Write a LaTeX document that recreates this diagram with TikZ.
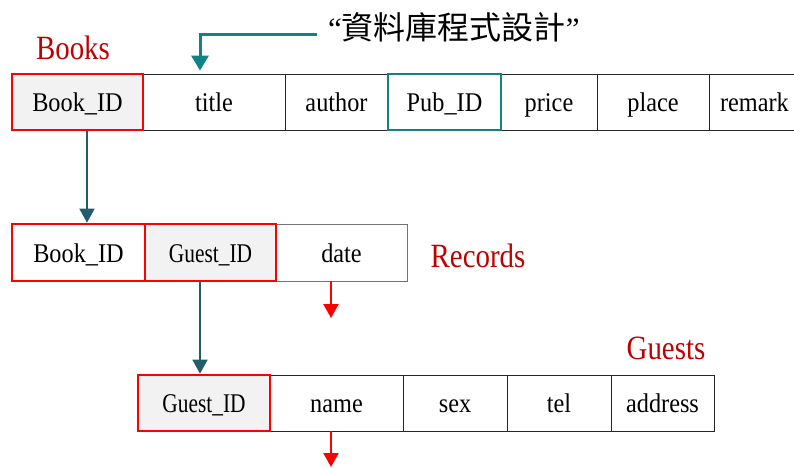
\documentclass[tikz,border=0pt]{standalone}
\usepackage{fontspec}
\setmainfont{Liberation Serif}
\newfontfamily\cellfont[FakeStretch=0.9]{Liberation Serif}
\newfontfamily\labfont[FakeStretch=0.85]{Liberation Serif}
\newfontfamily\cjk{Noto Sans CJK TC}
\usetikzlibrary{arrows.meta}
\definecolor{keyred}{HTML}{FF0000}
\definecolor{labred}{HTML}{C00000}
\definecolor{tealc}{HTML}{0E8484}
\definecolor{darkc}{HTML}{235C6B}
\definecolor{fillg}{HTML}{F2F2F2}
\tikzset{
  cell/.style={draw=black!85, line width=0.9pt, inner sep=0pt, minimum height=56pt, text height=19pt, text depth=0pt, font=\cellfont\fontsize{27}{29}\selectfont},
  keycell/.style={cell, draw=keyred, line width=2.6pt},
  tlabel/.style={text=labred, font=\labfont\fontsize{34}{36}\selectfont, inner sep=0pt},
  conn/.style={draw=darkc, line width=1.6pt, -{Triangle[width=15pt,length=14pt]}},
  redarr/.style={draw=keyred, line width=2.2pt, -{Triangle[width=15pt,length=14pt]}},
  tealarr/.style={draw=tealc, line width=3pt, -{Triangle[width=17pt,length=15pt]}}
}
\newcommand{\narrow}[1]{\scalebox{0.88}[1]{#1}}
\begin{document}
\begin{tikzpicture}[x=1pt,y=1pt]
\useasboundingbox (0,0) rectangle (794,467);
% Row 1: Books
\node[cell, minimum width=142pt] (t1) at (214,365) {title};
\node[cell, minimum width=103pt] (a1) at (336.5,365) {author};
\node[cell, minimum width=96pt] (pr1) at (549,365) {price};
\node[cell, minimum width=112pt] (pl1) at (653,365) {place};
\node[cell, minimum width=90pt, text width=84pt, align=left] (rm1) at (754,365) {\hspace*{8pt}remark};
\node[cell, draw=tealc, line width=1.6pt, minimum width=113pt] (pub1) at (444.5,365) {Pub\_ID};
\node[keycell, fill=fillg, minimum width=131pt] (b1) at (77.5,365) {Book\_ID};
\node[tlabel] (lbooks) at (73,419) {Books};
% Row 2: Records
\node[cell, draw=black!55, minimum width=131pt, minimum height=57pt] (d2) at (341.5,214.5) {date};
\node[keycell, minimum width=133pt, minimum height=57pt] (b2) at (78.5,214.5) {Book\_ID};
\node[keycell, fill=fillg, minimum width=131pt, minimum height=57pt] (g2) at (210.5,214.5) {\narrow{Guest\_ID}};
\node[tlabel] (lrec) at (478,211) {Records};
% Row 3: Guests
\node[cell, minimum width=133pt] (n3) at (336.5,64) {name};
\node[cell, minimum width=104pt] (s3) at (455,64) {sex};
\node[cell, minimum width=104pt] (te3) at (559,64) {tel};
\node[cell, minimum width=103pt] (ad3) at (662.5,64) {address};
\node[keycell, fill=fillg, minimum width=132pt] (g3) at (204,64) {\narrow{Guest\_ID}};
\node[tlabel] (lguest) at (666,119) {Guests};
% Note
\node[anchor=west, inner sep=0pt, font=\fontsize{31}{34}\selectfont] (note) at (328,440) {“{\cjk\fontsize{32}{34}\selectfont 資料庫程式設計}”};
\coordinate (nstart) at (317,432);
\coordinate (ncorner) at (200,432);
% Connectors
\draw[tealarr] (nstart) -- (ncorner) -- ([xshift=-14pt,yshift=3pt]t1.north);
\draw[conn] ([xshift=9.5pt]b1.south) -- ([xshift=8.5pt]b2.north);
\draw[conn] ([xshift=-10.5pt]g2.south) -- ([xshift=-4pt]g3.north);
\coordinate (e1) at (331,149);
\coordinate (e2) at (331,0);
\draw[redarr] ([xshift=-10.5pt]d2.south) -- (e1);
\draw[redarr] ([xshift=-5.5pt]n3.south) -- (e2);
\end{tikzpicture}
\end{document}
